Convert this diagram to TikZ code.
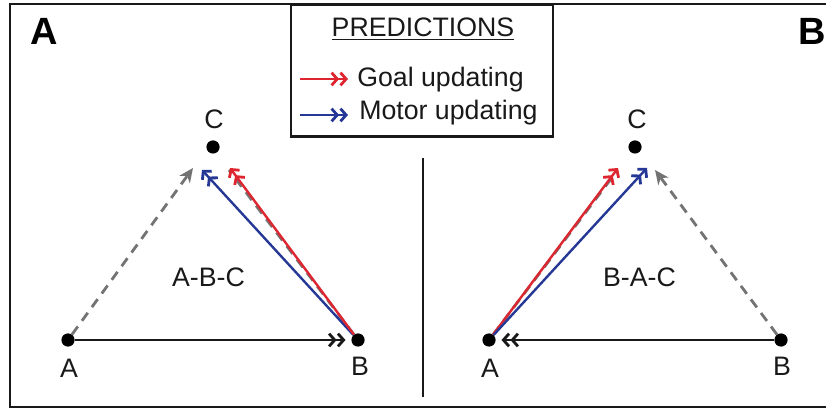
\documentclass[tikz,border=0pt]{standalone}
\usepackage{fontspec}
\setmainfont{Liberation Sans}
\usepackage{tikz}
\usetikzlibrary{arrows.meta,positioning}
\usepackage{xcolor}
\definecolor{goalred}{RGB}{222,38,48}
\definecolor{motorblue}{RGB}{38,56,150}
\definecolor{dashgray}{RGB}{115,115,115}
\definecolor{inkblack}{RGB}{25,25,25}
\tikzset{
    dot/.style={
        circle,
        fill=black,
        inner sep=0pt,
        minimum size=0.33cm
    },
    lbl/.style={
        font=\fontsize{19}{22}\selectfont,
        text=inkblack,
        anchor=base,
        inner sep=0pt
    },
    panelLetter/.style={
        font=\fontsize{27}{30}\selectfont\bfseries,
        text=black,
        anchor=base,
        inner sep=0pt
    },
    dblHead/.style={
        -{Straight Barb[length=4pt,width=9pt,line width=2pt]Straight Barb[length=4pt,width=9pt,line width=2pt]}
    },
    sequence/.style={dblHead, draw=inkblack, line width=2pt, shorten >=4pt},
    goalArrow/.style={dblHead, draw=goalred, line width=1.7pt},
    motorArrow/.style={dblHead, draw=motorblue, line width=1.7pt},
    predicted/.style={draw=dashgray, line width=2pt, dash pattern=on 7pt off 5pt},
    predictedHead/.style={predicted, -{Stealth[length=10pt,width=9pt,inset=3pt]}},
}

\begin{document}
\begin{tikzpicture}[x=0.025cm, y=-0.025cm]
    \useasboundingbox (0,0) rectangle (826,411);

    % Outer frame and divider
    \draw[line width=2pt, inkblack] (826,4) -- (10,4) -- (10,407) -- (826,407);
    \draw[line width=2pt, inkblack] (423,158) -- (423,397);

    % Legend
    \node[draw=inkblack, line width=1.8pt, minimum width=6.55cm, minimum height=3.3cm, inner sep=0pt] (legend) at (422,70.5) {};
    \node[lbl] (legendTitle) at (423,37) {\underline{PREDICTIONS}};
    \coordinate (goalFrom) at (300,79);
    \coordinate (goalTo) at (348,79);
    \draw[goalArrow] (goalFrom) -- (goalTo);
    \node[lbl, anchor=base west] (goalText) at (357,87) {Goal updating};
    \coordinate (motorFrom) at (300,115);
    \coordinate (motorTo) at (348,115);
    \draw[motorArrow] (motorFrom) -- (motorTo);
    \node[lbl, anchor=base west] (motorText) at (359,120) {Motor updating};

    % Panel A: A-B-C
    \node[panelLetter] (panelA) at (44,45) {A};
    \node[dot] (aA) at (68,340) {};
    \node[dot] (aB) at (358,340) {};
    \node[dot] (aC) at (213,147) {};
    \node[lbl] (aAlbl) at (69,377) {A};
    \node[lbl] (aBlbl) at (360,375) {B};
    \node[lbl] (aClbl) at (214,129) {C};
    \node[lbl] (aSeq) at (208.5,287) {A-B-C};
    \coordinate (aCgray) at (193,168);
    \coordinate (aCmotor) at (202,170);
    \coordinate (aCgoal) at (230,168);
    \coordinate (aCdash) at (229,170);
    \draw[predictedHead] (aA) -- (aCgray);
    \draw[predicted] (aB) -- (aCdash);
    \draw[motorArrow] (aB) -- (aCmotor);
    \draw[goalArrow] (aB) -- (aCgoal);
    \draw[sequence] (aA) -- (aB);

    % Panel B: B-A-C
    \node[panelLetter] (panelB) at (812.5,45) {B};
    \node[dot] (bA) at (489,340) {};
    \node[dot] (bB) at (781,340) {};
    \node[dot] (bC) at (635,147) {};
    \node[lbl] (bAlbl) at (490,377) {A};
    \node[lbl] (bBlbl) at (782,375) {B};
    \node[lbl] (bClbl) at (637,129) {C};
    \node[lbl] (bSeq) at (639.5,287) {B-A-C};
    \coordinate (bCgray) at (655,170);
    \coordinate (bCmotor) at (647,168);
    \coordinate (bCgoal) at (618,168);
    \coordinate (bCdash) at (617,171);
    \draw[predictedHead] (bB) -- (bCgray);
    \draw[predicted] (bA) -- (bCdash);
    \draw[goalArrow] (bA) -- (bCgoal);
    \draw[motorArrow] (bA) -- (bCmotor);
    \draw[sequence] (bB) -- (bA);
\end{tikzpicture}
\end{document}
